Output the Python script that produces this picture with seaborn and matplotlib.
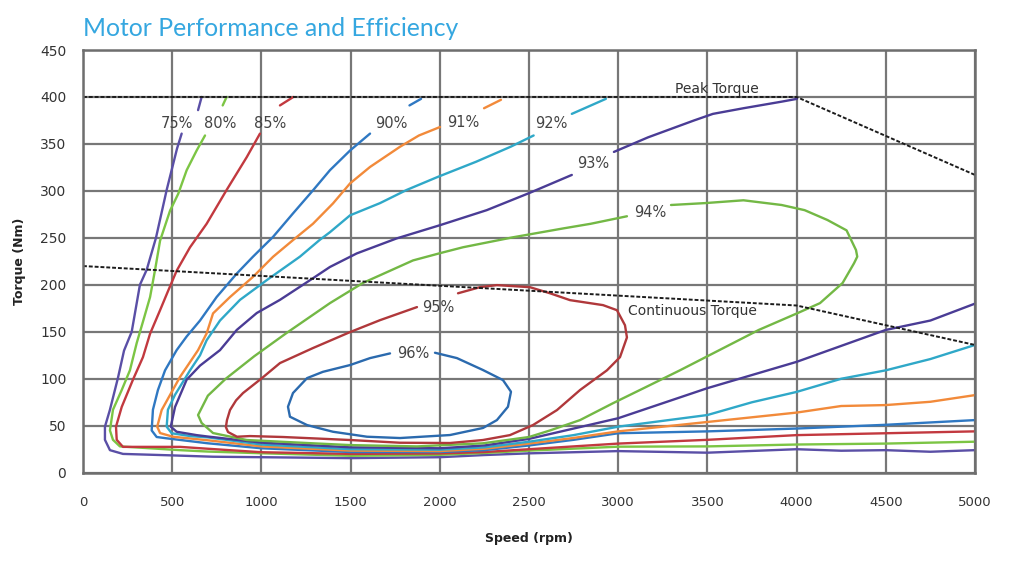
import numpy as np
import pandas as pd
import matplotlib
matplotlib.use("Agg")
import matplotlib.pyplot as plt
import seaborn as sns

nan = np.nan

# ---- efficiency contour traces (speed rpm, torque Nm); nan = label gap ----
eff75_rpm = [665, 645, nan, 553, 527, 469, 409, 357, 319, 273, 230, 196, 151, 123, 123, 151, 224, 488, 729,
             1000, 1500, 2000, 2250, 2500, 3000, 3500, 4000, 4250, 4500, 4750, 5000]
eff75_nm = [400, 386, nan, 361, 345, 301, 250, 216, 200, 150, 130, 101, 67, 49, 35, 24, 20, 18.5, 17,
            16.5, 15.5, 16.5, 18.8, 20.6, 23, 21.3, 25, 23.4, 24, 22.3, 24]

eff80_rpm = [805, 783, nan, 684, 637, 581, 534, 488, 432, 404, 376, 338, 301, 263, 217, 168, 151, 168, 207, 544,
             700, 1000, 1500, 2000, 2250, 2500, 3000, 3500, 4000, 4500, 5000]
eff80_nm = [400, 391, nan, 359, 343, 322, 297, 279, 247, 216, 187, 162, 138, 109, 88, 67, 45, 35, 28, 24,
            22.5, 20.7, 18, 19, 21, 23.5, 27.7, 28, 30, 31, 33]

eff85_rpm = [1179, 1104, nan, 992, 918, 805, 693, 600, 525, 478, 432, 376, 336, 280, 217, 185, 189, 224, 544,
             700, 1000, 1500, 2000, 2250, 2500, 2750, 3000, 3500, 4000, 4500, 5000]
eff85_nm = [400, 391, nan, 361, 336, 301, 265, 240, 215, 194, 173, 148, 123, 99, 70, 49, 35, 27.5, 27.5,
            25.5, 21.8, 20, 20.5, 22, 25, 28, 31, 35, 40, 42, 44]

eff90_rpm = [1895, 1830, nan, 1609, 1497, 1384, 1291, 1177, 1065, 953, 862, 749, 656, 581, 525, 460, 420, 392,
             385, 413, 469, 700, 1000, 1500, 2000, 2250, 2500, 2750, 3000, 3500, 4000, 4500, 5000]
eff90_nm = [398, 391, nan, 361, 343, 322, 301, 276, 251, 230, 212, 187, 162, 145, 130.5, 109, 88, 67,
            45, 38, 36.6, 31.3, 26, 22, 22, 24, 29, 35, 42, 44, 47, 51, 56]

eff91_rpm = [2343, 2248, nan, 2001, 1883, 1777, 1609, 1497, 1401, 1289, 1177, 1065, 953, 824, 729, 693, 645,
             544, 441, 416, 432, 504, 700, 1000, 1500, 2000, 2250, 2500, 2750, 3000, 3500, 4000, 4250, 4500,
             4750, 5000]
eff91_nm = [397, 388, nan, 368, 359, 347, 325.5, 308, 286.6, 265, 247.6, 229.8, 208.5, 187, 169.6, 148.3,
            130.5, 102, 66.7, 49, 42.2, 38.3, 34.5, 28, 23.5, 23, 25.5, 31, 37, 44, 54, 64, 71, 72, 75.5, 82.6]

eff92_rpm = [2931, 2740, nan, 2526, 2397, 2203, 1990, 1814, 1665, 1497, 1384, 1328, 1216, 1030, 880, 768, 693,
             656, 600, 516, 476, 469, 497, 600, 700, 1000, 1500, 2000, 2250, 2500, 2750, 3000, 3500, 3750,
             4000, 4250, 4500, 4750, 5000]
eff92_nm = [398, 382, nan, 359, 347, 331, 315, 301, 287, 274, 256, 248, 230, 205, 184, 162, 141, 125, 109,
            83, 67, 49, 42, 39, 37.6, 30, 25, 24.5, 27, 33, 40, 49, 61.4, 75, 86, 100, 109, 121, 136]

eff93_rpm = [4002, 3916, 3702, 3531, 3425, 3167, 2976, nan, 2740, 2505, 2263, 2001, 1758, 1534, 1384, 1289,
             1104, 974, 862, 768, 656, 581, 516, 492, 525, 637, 700, 1000, 1500, 2000, 2250, 2500, 2750,
             3000, 3250, 3500, 4000, 4500, 4750, 5000]
eff93_nm = [398, 395, 388, 382, 375, 357, 341.5, nan, 317, 298, 279.5, 263.5, 249.4, 233.4, 219, 207, 184,
            170, 152, 130.5, 114, 99, 70, 49, 43.6, 40, 38.5, 32, 27, 26, 29, 36, 47, 58, 74, 90, 118, 152,
            162, 180]

eff94_rpm = [3296, 3486, 3702, 3916, 4045, 4173, 4280, 4333, 4340, 4322, 4258, 4131, 4002, 3788, 3531, 3346,
             3159, 2971, 2786, 2618, 2500, 2242, 1872, 1497, 1289, 918, 729, 665, 645, 700, 800, 960, 1143,
             1384, 1569, 1850, 2001, 2130, 2410, 2690, 2846, 3049]
eff94_nm = [285, 287, 290, 285, 279.5, 269, 258, 237, 230, 223, 202, 180.5, 169.6, 152, 127, 109, 91.5, 74,
            56, 45, 38, 31.3, 28, 29.4, 31.3, 34.8, 42.2, 52.9, 61.4, 82, 100, 124, 149, 180.5, 202, 226,
            233.7, 240, 250.6, 260, 265, 273]

eff95_rpm = [2102, 2225, 2320, 2505, 2618, 2730, 2915, 2993, 3038, 3049, 3010, 2937, 2786, 2657, 2522, 2393,
             2242, 2057, 1777, 1497, 1121, 936, 863, 813, 801, 807, 824, 858, 897, 1003, 1104, 1289, 1497,
             1665, 1872]
eff95_nm = [191, 197.5, 199.7, 197.5, 191, 183.7, 178.4, 173, 157, 144, 123, 109, 88, 66.7, 50.7, 40, 34.8,
            31.6, 31.9, 34.8, 38, 39, 38.3, 43.3, 48.6, 56, 66.7, 77, 84.8, 100.7, 116.7, 132.7, 149.7,
            162.4, 176.3]

eff96_rpm = [1973, 2096, 2242, 2354, 2399, 2382, 2320, 2242, 2057, 1777, 1592, 1401, 1256, 1160, 1149, 1177,
             1256, 1345, 1497, 1609, 1721]
eff96_nm = [127.7, 122, 109.3, 98.6, 86.2, 70.2, 56, 47.6, 40.1, 36.9, 38.3, 43.6, 50.7, 59.6, 70.2, 84.8,
            100.7, 107.4, 114.6, 122, 127]

# ---- torque limit lines ----
peak_rpm = [0, 4000, 5000]
peak_nm = [400, 400, 317]
cont_rpm = [0, 4000, 5000]
cont_nm = [220, 178, 136]

# ---- contour labels ----
label_text = ["75%", "80%", "85%", "90%", "91%", "92%", "93%", "94%", "95%", "96%"]
label_rpm = [525, 768, 1048, 1726, 2130, 2623, 2858, 3178, 1990, 1850]
label_nm = [372, 372, 372, 372, 373, 372, 329, 277, 176, 127]

x_ticks = list(range(0, 5001, 500))
y_ticks = list(range(0, 451, 50))

palette = {
    "75%": "#5a4fa6", "80%": "#7cc544", "85%": "#c2393f", "90%": "#2f78c2", "91%": "#f28a3a",
    "92%": "#2fa8c8", "93%": "#4a3c95", "94%": "#73b845", "95%": "#b0383b", "96%": "#2b6aae",
}

contours = {
    "75%": (eff75_rpm, eff75_nm), "80%": (eff80_rpm, eff80_nm), "85%": (eff85_rpm, eff85_nm),
    "90%": (eff90_rpm, eff90_nm), "91%": (eff91_rpm, eff91_nm), "92%": (eff92_rpm, eff92_nm),
    "93%": (eff93_rpm, eff93_nm), "94%": (eff94_rpm, eff94_nm), "95%": (eff95_rpm, eff95_nm),
    "96%": (eff96_rpm, eff96_nm),
}

rows = []
for lvl, (xs, ys) in contours.items():
    seg = 0
    for i, (x, y) in enumerate(zip(xs, ys)):
        if np.isnan(x):
            seg += 1
            continue
        rows.append(dict(level=lvl, seg=f"{lvl}-{seg}", order=i, rpm=x, nm=y))
df = pd.DataFrame(rows)

sns.set_theme(style="white")
plt.rcParams["font.family"] = ["DejaVu Sans"]

fig = plt.figure(figsize=(10.15, 5.7), dpi=100)
ax = fig.add_axes([83 / 1015, (570 - 472.7) / 570, (975 - 83) / 1015, (472.7 - 50) / 570])

sns.lineplot(data=df, x="rpm", y="nm", hue="level", units="seg", estimator=None, sort=False,
             palette=palette, linewidth=1.7, legend=False, ax=ax)

sns.lineplot(x=peak_rpm, y=peak_nm, color="#1c1c1c", linewidth=1.4, linestyle=(0, (2, 1)),
             sort=False, estimator=None, ax=ax)
sns.lineplot(x=cont_rpm, y=cont_nm, color="#1c1c1c", linewidth=1.4, linestyle=(0, (2, 1)),
             sort=False, estimator=None, ax=ax)

for t, x, y in zip(label_text, label_rpm, label_nm):
    ax.text(x, y, t, ha="center", va="center", fontsize=10.5, color="#444444")

ax.text(3555, 408, "Peak Torque", ha="center", va="center", fontsize=10, color="#333333")
ax.text(3055, 172, "Continuous Torque", ha="left", va="center", fontsize=10, color="#333333")

ax.set_xlim(0, 5000)
ax.set_ylim(0, 450)
ax.set_xticks(x_ticks)
ax.set_yticks(y_ticks)
ax.grid(True, color="#777777", linewidth=1.6)
ax.set_axisbelow(True)
for s in ax.spines.values():
    s.set_color("#6e6e6e")
    s.set_linewidth(1.8)
ax.tick_params(axis="x", length=0, pad=17, labelsize=9.5, colors="#333333")
ax.tick_params(axis="y", length=0, pad=12, labelsize=10, colors="#333333")
ax.set_xlabel("Speed (rpm)", fontsize=9, fontweight="bold", color="#222222", labelpad=16)
ax.set_ylabel("Torque (Nm)", fontsize=9, fontweight="bold", color="#222222", labelpad=10)

fig.text(83 / 1015, 1 - 28 / 570, "Motor Performance and Efficiency", fontsize=17.8, color="#35a7e0",
         family="Lato", ha="left", va="center")

fig.savefig("out.png", dpi=100)
